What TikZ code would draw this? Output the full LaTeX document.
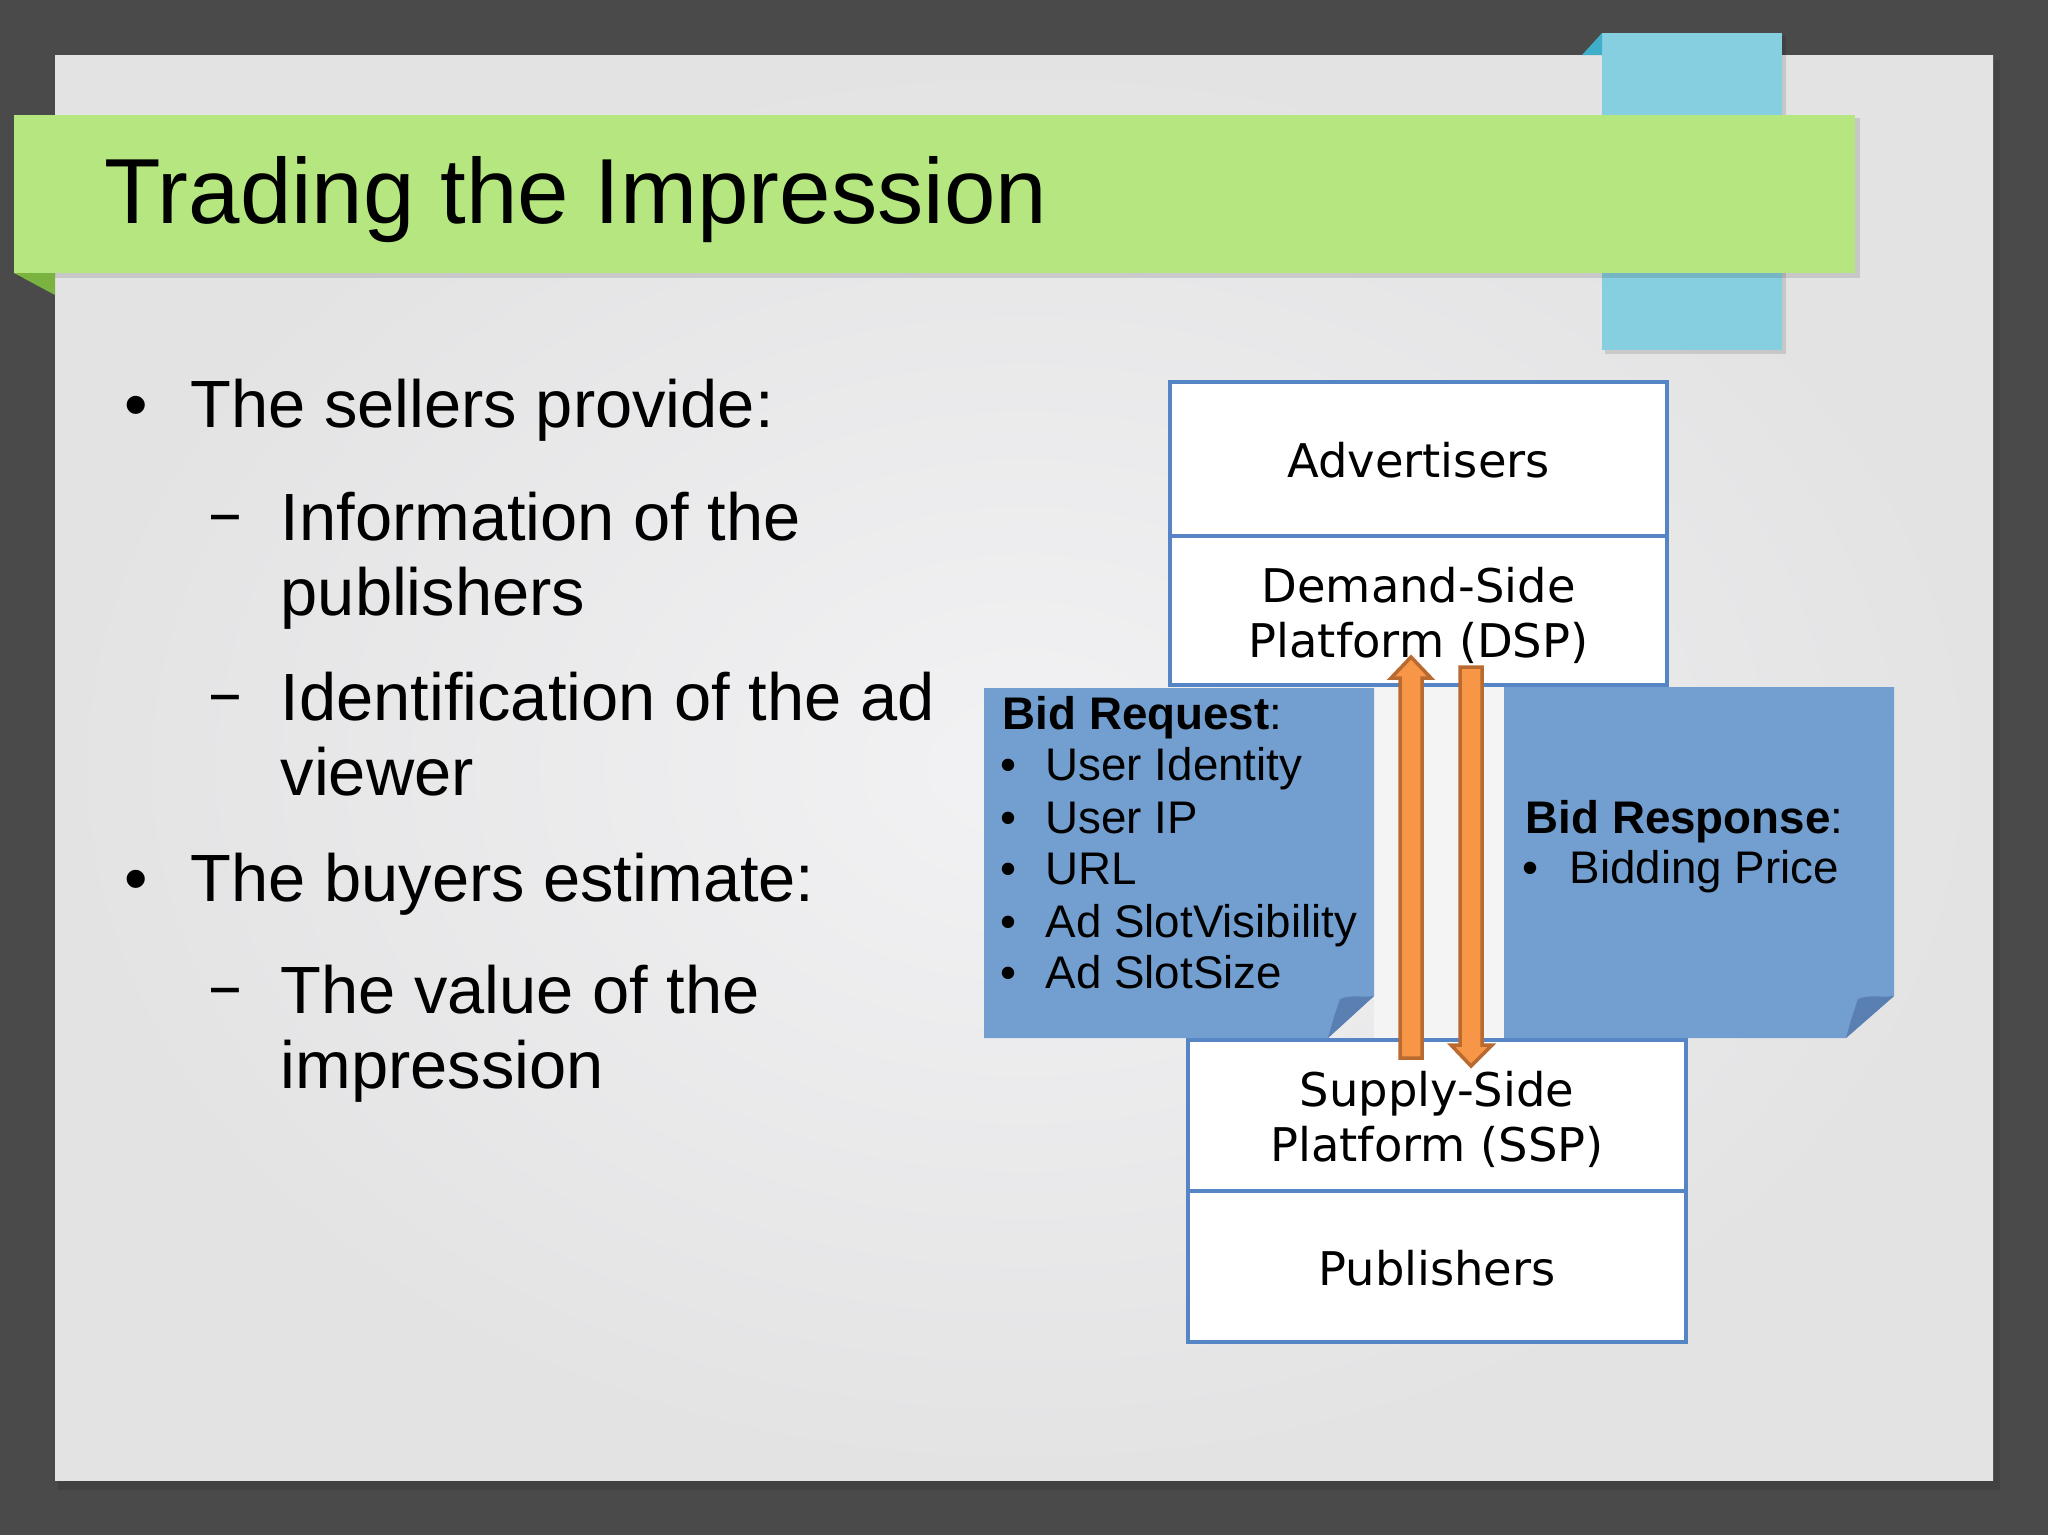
\documentclass[tikz,border=0pt]{standalone}
\usepackage{fontspec}
\setmainfont{Liberation Sans}
\newfontfamily\dejavu{DejaVu Sans}
\definecolor{frame}{HTML}{4A4A4A}
\definecolor{titlegreen}{HTML}{B5E67F}
\definecolor{foldgreen}{HTML}{7AB33F}
\definecolor{tabblue}{HTML}{86CFE0}
\definecolor{foldblue}{HTML}{3FAFC9}
\definecolor{boxblue}{HTML}{5585C5}
\definecolor{notefill}{HTML}{729FCF}
\definecolor{curlc}{HTML}{5A80B2}
\definecolor{arrfill}{HTML}{F79646}
\definecolor{arrline}{HTML}{B96A30}
\definecolor{stripc}{HTML}{F4F4F4}
\begin{document}
\begin{tikzpicture}[x=0.01cm,y=-0.01cm,
  txt/.style={inner sep=0pt,anchor=base west},
  ctxt/.style={inner sep=0pt,anchor=base},
  bigtxt/.style={font=\fontsize{19pt}{22pt}\selectfont},
  boxtxt/.style={font=\dejavu\fontsize{13.2pt}{15pt}\selectfont},
  notetxt/.style={font=\fontsize{13pt}{15pt}\selectfont},
  pbox/.style={draw=boxblue,line width=0.04cm,fill=white,inner sep=0pt},
  blockarrow/.style={fill=arrfill,draw=arrline,line width=0.035cm,line join=miter}
]
\useasboundingbox (0,0) rectangle (2048,1535);
% frame and slide
\fill[frame] (0,0) rectangle (2048,1535);
\fill[black,opacity=0.12] (58,60) rectangle (2000,1490);
\shade[inner color={rgb,255:red,242;green,242;blue,244}, outer color={rgb,255:red,227;green,227;blue,228}] (55,55) rectangle (1993,1480);
% blue tab
\fill[black,opacity=0.12] (1605,36) rectangle (1786,354);
\fill[tabblue] (1602,33) rectangle (1782,350);
\fill[foldblue] (1582,55) -- (1602,33) -- (1602,55) -- cycle;
% green title bar
\fill[black,opacity=0.12] (18,118) rectangle (1860,278);
\fill[titlegreen] (14,115) rectangle (1855,273);
\fill[foldgreen] (14,273) -- (55,273) -- (55,295) -- cycle;
\node[txt,font=\fontsize{26.3pt}{30pt}\selectfont] (title) at (104,223) {Trading the Impression};
% left bullet text
\node[ctxt,bigtxt] (b1) at (136,427) {•};
\node[txt,bigtxt] (t1) at (190,427) {The sellers provide:};
\node[ctxt,bigtxt] (d1) at (225,534) {\scalebox{0.75}[1]{–}};
\node[txt,bigtxt] (t2) at (280,540) {Information of the};
\node[txt,bigtxt] (t3) at (280,615) {publishers};
\node[ctxt,bigtxt] (d2) at (225,714) {\scalebox{0.75}[1]{–}};
\node[txt,bigtxt] (t4) at (280,720) {Identification of the ad};
\node[txt,bigtxt] (t5) at (280,795) {viewer};
\node[ctxt,bigtxt] (b2) at (136,901) {•};
\node[txt,bigtxt] (t6) at (190,901) {The buyers estimate:};
\node[ctxt,bigtxt] (d3) at (225,1007) {\scalebox{0.75}[1]{–}};
\node[txt,bigtxt] (t7) at (280,1013) {The value of the};
\node[txt,bigtxt] (t8) at (280,1088) {impression};
% boxes
\node[pbox,minimum width=4.97cm,minimum height=1.54cm] (adv) at (1418.5,459) {};
\node[pbox,minimum width=4.97cm,minimum height=1.49cm] (dsp) at (1418.5,610.5) {};
\node[pbox,minimum width=4.98cm,minimum height=1.51cm] (ssp) at (1437,1115.5) {};
\node[pbox,minimum width=4.98cm,minimum height=1.51cm] (pub) at (1437,1266.5) {};
\node[ctxt,boxtxt] (advt) at (1418.5,477) {Advertisers};
\node[ctxt,boxtxt] (dspt1) at (1418.5,602) {Demand-Side};
\node[ctxt,boxtxt] (dspt2) at (1418.5,657) {Platform (DSP)};
\node[ctxt,boxtxt] (sspt1) at (1437,1106) {Supply-Side};
\node[ctxt,boxtxt] (sspt2) at (1437,1161) {Platform (SSP)};
\node[ctxt,boxtxt] (pubt) at (1437,1285) {Publishers};
% strip between notes
\fill[stripc] (1374,687) rectangle (1504,1038);
% left note
\fill[notefill] (984,688) -- (1374,688) -- (1374,996) -- (1328,1038) -- (984,1038) -- cycle;
\fill[curlc] (1328,1038) .. controls (1333,1020) .. (1340,999) .. controls (1352,994) and (1362,998) .. (1374,996) -- cycle;
% right note
\fill[notefill] (1504,687) -- (1894,687) -- (1894,996) -- (1846,1038) -- (1504,1038) -- cycle;
\fill[curlc] (1846,1038) .. controls (1851,1020) .. (1858,999) .. controls (1870,994) and (1880,998) .. (1894,996) -- cycle;
% note texts
\node[txt,notetxt] (req) at (1002,729) {\textbf{Bid Request}:};
\node[ctxt,notetxt] (rb1) at (1008,780) {•};
\node[txt,notetxt] (r1) at (1045,780) {User Identity};
\node[ctxt,notetxt] (rb2) at (1008,833) {•};
\node[txt,notetxt] (r2) at (1045,833) {User IP};
\node[ctxt,notetxt] (rb3) at (1008,884) {•};
\node[txt,notetxt] (r3) at (1045,884) {URL};
\node[ctxt,notetxt] (rb4) at (1008,937) {•};
\node[txt,notetxt] (r4) at (1045,937) {Ad SlotVisibility};
\node[ctxt,notetxt] (rb5) at (1008,988) {•};
\node[txt,notetxt] (r5) at (1045,988) {Ad SlotSize};
\node[txt,notetxt] (resp) at (1525,833) {\textbf{Bid Response}:};
\node[ctxt,notetxt] (pb1) at (1530,883) {•};
\node[txt,notetxt] (p1) at (1569,883) {Bidding Price};
% block arrows (request up to DSP, response down to SSP)
\draw[blockarrow] (1400,1058) -- (1400,678) -- (1391,678) -- (1411,657) -- (1431,678) -- (1422,678) -- (1422,1058) -- cycle;
\draw[blockarrow] (1460,667) -- (1482,667) -- (1482,1045) -- (1492,1045) -- (1471,1066) -- (1451,1045) -- (1460,1045) -- cycle;
\end{tikzpicture}
\end{document}
